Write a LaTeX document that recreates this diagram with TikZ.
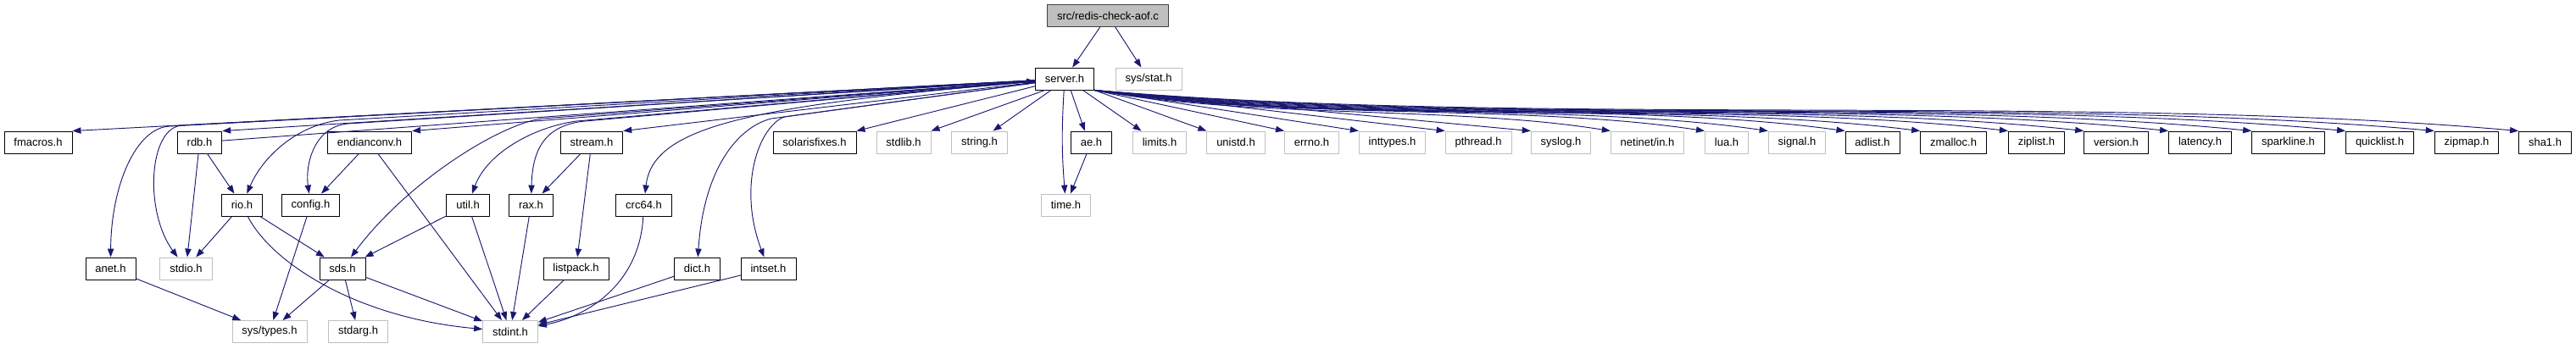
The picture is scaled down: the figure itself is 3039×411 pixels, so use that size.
\documentclass[tikz,border=0pt]{standalone}
\usepackage{fontspec}
\setmainfont{Liberation Sans}
\usepackage{tikz}
\usetikzlibrary{arrows.meta}
\definecolor{incblue}{HTML}{191970}
\definecolor{incgray}{HTML}{BFBFBF}
\tikzset{
  inc/file/.style={draw, line width=0.65pt, fill=white, minimum height=19.5pt, inner xsep=8.6pt, inner ysep=0pt, font=\fontsize{9.75}{11}\selectfont},
  inc/sys/.style={inc/file, draw=incgray},
  inc/root/.style={inc/file, draw=black!75, fill=incgray},
  inc/edge/.style={draw=incblue, line width=0.7pt, -{Triangle[length=7.5pt,width=5.5pt]}}
}

\begin{document}
\begin{tikzpicture}[x=0.75pt,y=-0.75pt, line cap=round, line join=round]
\useasboundingbox (0,0) rectangle (3039,411);

% Source file and server.h
\node[inc/root] (root) at (1307,18.5) {src/redis-check-aof.c};
\node[inc/file] (server) at (1256,93) {server.h};
\node[inc/sys] (sysstat) at (1355,93) {sys/stat.h};

% First row
\node[inc/file] (fmacros) at (45,168) {fmacros.h};
\node[inc/file] (rdb) at (235.5,168) {rdb.h};
\node[inc/file] (endianconv) at (436,168) {endianconv.h};
\node[inc/file] (stream) at (698,168) {stream.h};
\node[inc/file] (solarisfixes) at (961,168) {solarisfixes.h};
\node[inc/sys] (stdlib) at (1066,168) {stdlib.h};
\node[inc/sys] (string) at (1155.5,168) {string.h};
\node[inc/file] (ae) at (1287.5,168) {ae.h};
\node[inc/sys] (limits) at (1368,168) {limits.h};
\node[inc/sys] (unistd) at (1458,168) {unistd.h};
\node[inc/sys] (errno) at (1547.5,168) {errno.h};
\node[inc/sys] (inttypes) at (1642.5,168) {inttypes.h};
\node[inc/sys] (pthread) at (1744,168) {pthread.h};
\node[inc/sys] (syslog) at (1841.5,168) {syslog.h};
\node[inc/sys] (netinet) at (1943.5,168) {netinet/in.h};
\node[inc/sys] (lua) at (2037,168) {lua.h};
\node[inc/sys] (signal) at (2120,168) {signal.h};
\node[inc/file] (adlist) at (2209,168) {adlist.h};
\node[inc/file] (zmalloc) at (2304.5,168) {zmalloc.h};
\node[inc/file] (ziplist) at (2402.5,168) {ziplist.h};
\node[inc/file] (version) at (2496.5,168) {version.h};
\node[inc/file] (latency) at (2595.5,168) {latency.h};
\node[inc/file] (sparkline) at (2699.5,168) {sparkline.h};
\node[inc/file] (quicklist) at (2807.5,168) {quicklist.h};
\node[inc/file] (zipmap) at (2910,168) {zipmap.h};
\node[inc/file] (sha1) at (3002.5,168) {sha1.h};

% Second row
\node[inc/file] (rio) at (285.5,242) {rio.h};
\node[inc/file] (config) at (366.5,242) {config.h};
\node[inc/file] (util) at (552,242) {util.h};
\node[inc/file] (rax) at (626.5,242) {rax.h};
\node[inc/file] (crc64) at (759.5,242) {crc64.h};
\node[inc/sys] (time) at (1257.5,242) {time.h};

% Third row
\node[inc/file] (anet) at (130.5,317) {anet.h};
\node[inc/sys] (stdio) at (219.5,317) {stdio.h};
\node[inc/file] (sds) at (404,317) {sds.h};
\node[inc/file] (listpack) at (679.5,317) {listpack.h};
\node[inc/file] (dict) at (822.5,317) {dict.h};
\node[inc/file] (intset) at (906.5,317) {intset.h};

% Fourth row
\node[inc/sys] (systypes) at (318,391.5) {sys/types.h};
\node[inc/sys] (stdarg) at (422.5,391.5) {stdarg.h};
\node[inc/sys] (stdint) at (602,391.5) {stdint.h};

% Source file
\draw[inc/edge] (root) -- (server);
\draw[inc/edge] (root) -- (sysstat);

% server.h, left side
\draw[inc/edge] (server) -- (fmacros.north east);
\draw[inc/edge] (server) -- (rdb.north east);
\draw[inc/edge] (rdb) -- (server);
\draw[inc/edge] (server) -- (endianconv.north east);
\draw[inc/edge] (server) -- (stream.north east);
\draw[inc/edge] (server) -- (200,149) .. controls (160,151) and (131,220) .. (anet);
\draw[inc/edge] (server) -- (215,148) .. controls (175,150) and (170,250) .. (stdio);
\draw[inc/edge] (server) -- (400,142) .. controls (350,148) and (310,185) .. (rio);
\draw[inc/edge] (server) -- (410,146) .. controls (370,150) and (360,195) .. (config);
\draw[inc/edge] (server) -- (640,140) .. controls (590,146) and (480,215) .. (sds);
\draw[inc/edge] (server) -- (680,143) .. controls (630,150) and (575,180) .. (util);
\draw[inc/edge] (server) -- (690,143) .. controls (640,148) and (628,180) .. (rax);
\draw[inc/edge] (server) .. controls (880,125) and (770,150) .. (crc64);
\draw[inc/edge] (server) -- (910,140) .. controls (870,150) and (830,200) .. (dict);
\draw[inc/edge] (server) -- (925,138) .. controls (895,150) and (870,220) .. (intset);
\draw[inc/edge] (server) -- (solarisfixes.north east);
\draw[inc/edge] (server.-150) -- (stdlib.north east);
\draw[inc/edge] (server.-140) -- (string.40);

% server.h, below
\draw[inc/edge] (server) to[bend right=4] (time);
\draw[inc/edge] (server.-62) -- (ae.120);
\draw[inc/edge] (ae) -- (time);
\draw[inc/edge] (server.-32) -- (limits.148);
\draw[inc/edge] (server.south east) -- (unistd.north west);

% server.h, right side
\draw[inc/edge] (server.south east) -- (errno.north west);
\draw[inc/edge] (server.south east) -- (inttypes.north west);
\draw[inc/edge] (server.south east) -- (pthread.north west);
\draw[inc/edge] (server.south east) -- (syslog.north west);
\draw[inc/edge] (server.south east) .. controls (1474,140) and (1717,125) .. (netinet.north west);
\draw[inc/edge] (server.south east) .. controls (1507,142) and (1796,122) .. (lua.north west);
\draw[inc/edge] (server.south east) .. controls (1530,144) and (1848,120) .. (signal.north west);
\draw[inc/edge] (server.south east) .. controls (1557,146) and (1911,118) .. (adlist.north west);
\draw[inc/edge] (server.south east) .. controls (1583,148) and (1973,118) .. (zmalloc.north west);
\draw[inc/edge] (server.south east) .. controls (1614,150) and (2046,117) .. (ziplist.north west);
\draw[inc/edge] (server.south east) .. controls (1641,150) and (2109,116) .. (version.north west);
\draw[inc/edge] (server.south east) .. controls (1671,150) and (2178,115) .. (latency.north west);
\draw[inc/edge] (server.south east) .. controls (1701,150) and (2246,114) .. (sparkline.north west);
\draw[inc/edge] (server.south east) .. controls (1734,150) and (2324,113) .. (quicklist.north west);
\draw[inc/edge] (server.south east) .. controls (1766,150) and (2398,112) .. (zipmap.north west);
\draw[inc/edge] (server.south east) .. controls (1795,150) and (2468,110) .. (sha1.north west);

% Lower levels
\draw[inc/edge] (rdb) -- (rio);
\draw[inc/edge] (rdb) -- (stdio);
\draw[inc/edge] (endianconv) -- (config);
\draw[inc/edge] (endianconv) -- (stdint);
\draw[inc/edge] (stream) -- (rax);
\draw[inc/edge] (stream) -- (listpack);
\draw[inc/edge] (rio) -- (stdio);
\draw[inc/edge] (rio) -- (sds);
\draw[inc/edge] (rio) .. controls (320,310) and (420,375) .. (stdint);
\draw[inc/edge] (config) -- (systypes);
\draw[inc/edge] (util) -- (sds);
\draw[inc/edge] (util) -- (stdint);
\draw[inc/edge] (rax) -- (stdint);
\draw[inc/edge] (crc64) .. controls (755,330) and (700,372) .. (stdint);
\draw[inc/edge] (anet) -- (systypes);
\draw[inc/edge] (sds) -- (systypes);
\draw[inc/edge] (sds) -- (stdarg);
\draw[inc/edge] (sds) -- (stdint);
\draw[inc/edge] (listpack) -- (stdint);
\draw[inc/edge] (dict) -- (stdint);
\draw[inc/edge] (intset) -- (stdint);
\end{tikzpicture}
\end{document}
